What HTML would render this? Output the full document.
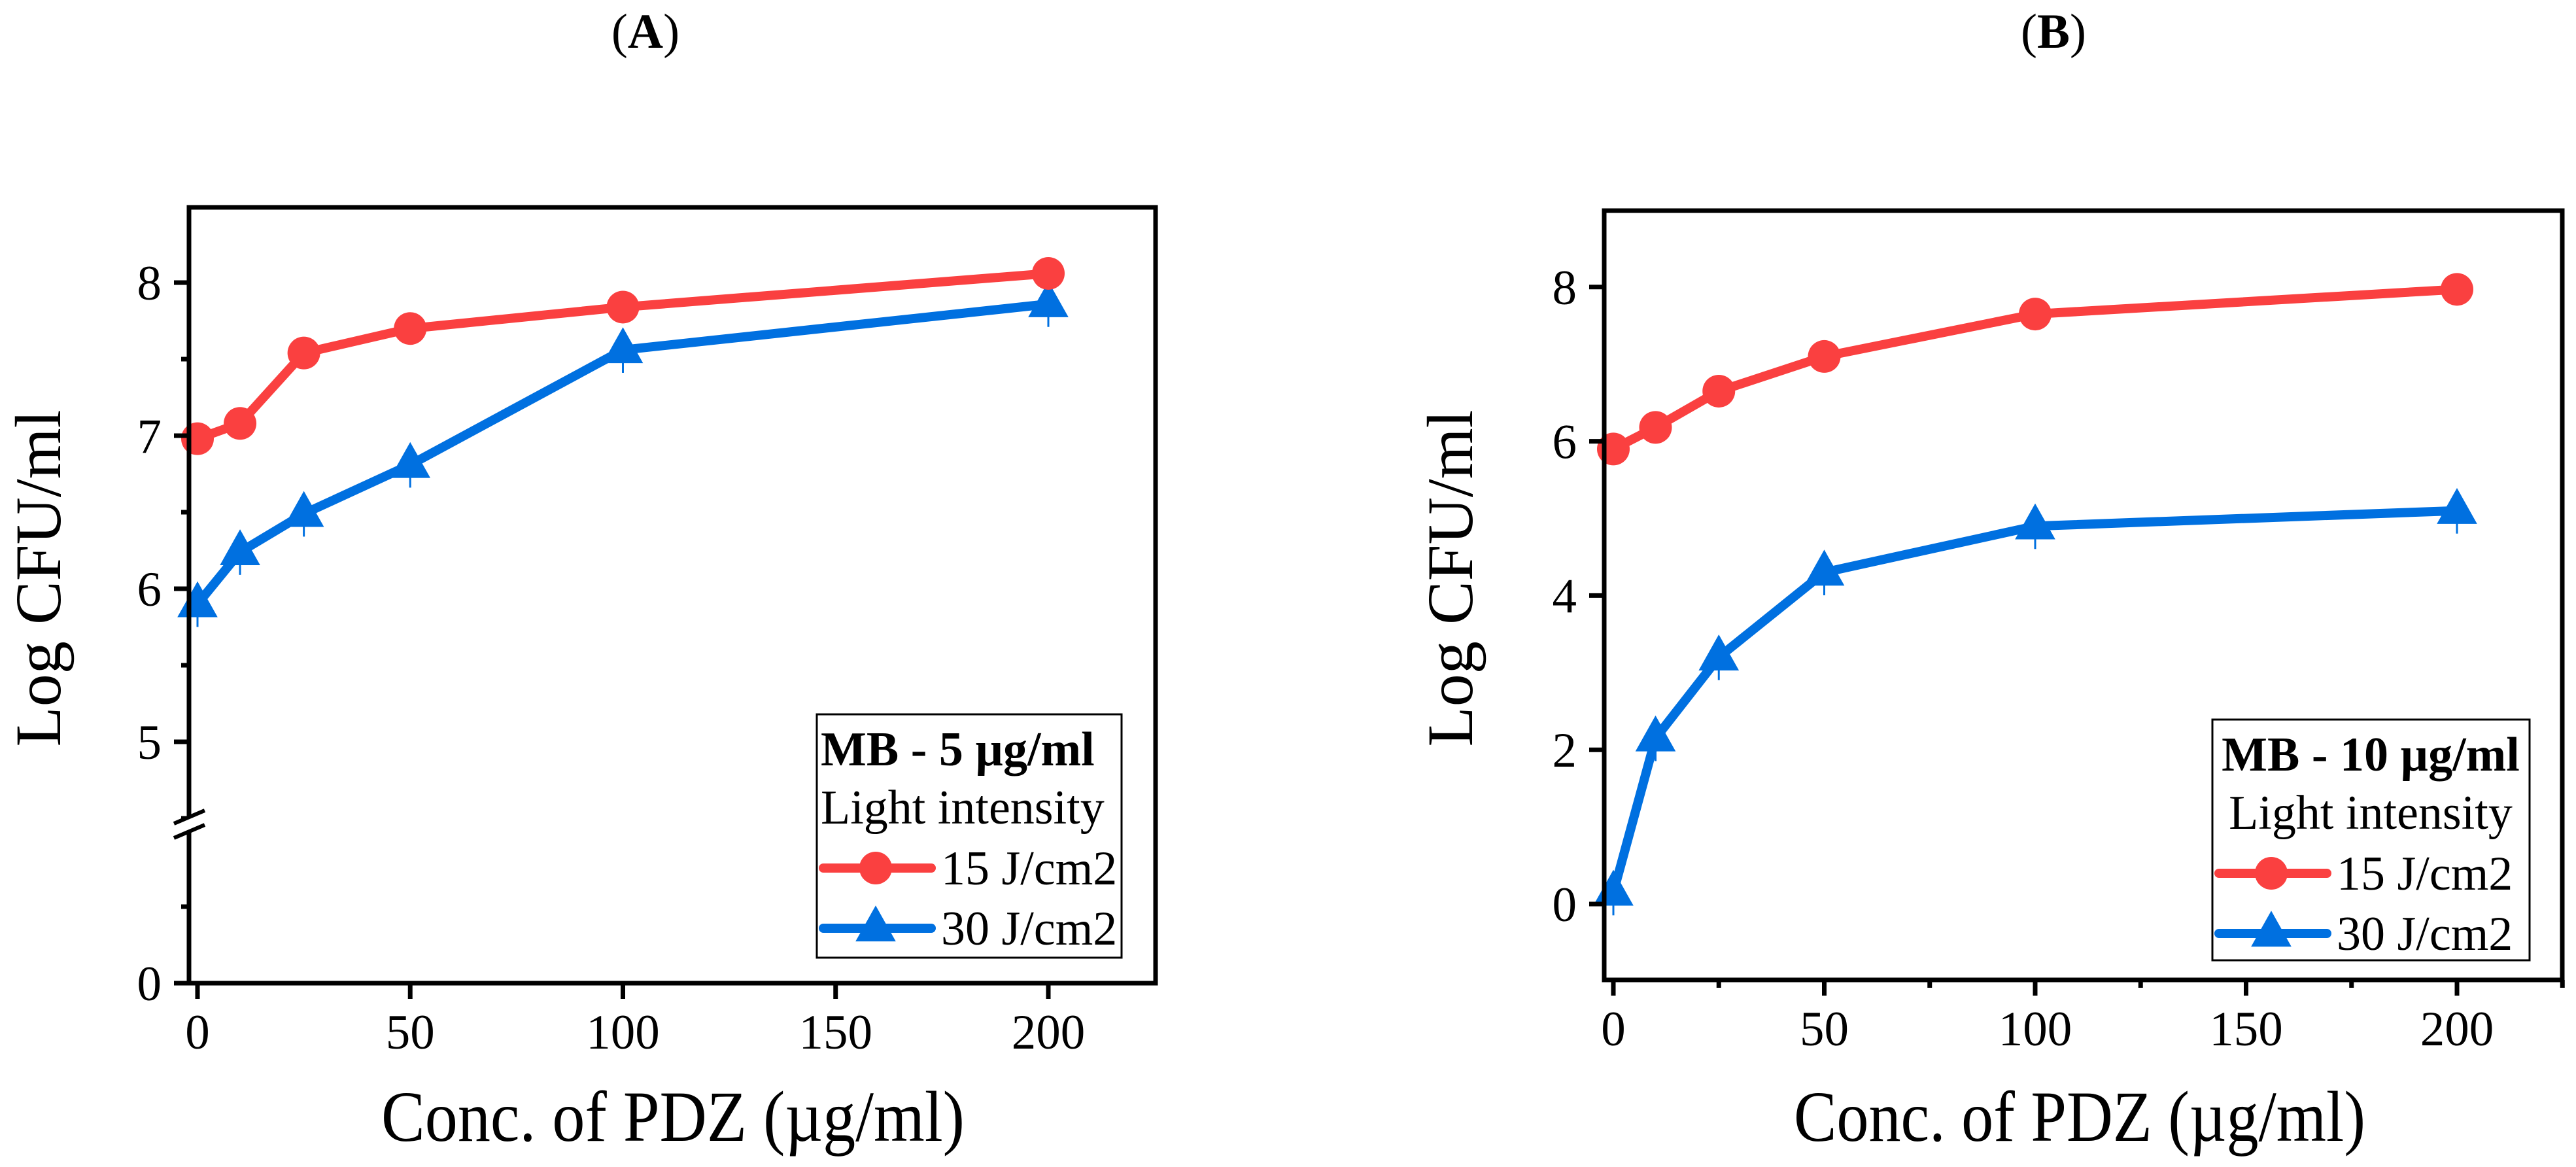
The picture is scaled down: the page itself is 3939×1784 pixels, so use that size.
<!DOCTYPE html>
<html><head><meta charset="utf-8"><style>
html,body{margin:0;padding:0;background:#fff}
svg, svg text{font-family:"Liberation Serif","Times New Roman",serif}
</style></head><body>
<svg id="fig" width="3939" height="1779" viewBox="0 0 3939 1779" xmlns="http://www.w3.org/2000/svg" font-family="'Liberation Serif', serif">
<text x="987" y="73" font-size="75" text-anchor="middle">(<tspan font-weight="bold">A</tspan>)</text>
<text x="3140" y="73" font-size="75" text-anchor="middle">(<tspan font-weight="bold">B</tspan>)</text>
<g id="chartA"></g>
<g id="chartB"></g>
</svg>
<script>
var xCats = [0, 10, 25, 50, 100, 200];
var xTicks = [0, 50, 100, 150, 200];
var aRed = [6.98, 7.08, 7.54, 7.70, 7.84, 8.06];
var aBlue = [5.90, 6.24, 6.49, 6.81, 7.56, 7.86];
var aYTicks = [5, 6, 7, 8];
var aYMinor = [4.5, 5.5, 6.5, 7.5];
var bRed = [5.90, 6.18, 6.65, 7.10, 7.65, 7.97];
var bBlue = [0.15, 2.15, 3.20, 4.30, 4.90, 5.10];
var bYTicks = [0, 2, 4, 6, 8];
var bXMinor = [25, 75, 125, 175, 225];

var SVGNS = "http://www.w3.org/2000/svg";
var RED = "#FA4040", BLUE = "#0070E0";
var FONT = "Liberation Serif, serif";
function mk(parent, tag, attrs, text) {
  var e = document.createElementNS(SVGNS, tag);
  for (var k in attrs) { e.setAttribute(k, String(attrs[k])); }
  if (tag === "text") { e.setAttribute("font-family", FONT); }
  if (text !== undefined) { e.textContent = text; }
  parent.appendChild(e);
  return e;
}
function tri(cx, cy, s) {
  return cx + "," + (cy - s * 0.62) + " " + (cx - s * 0.55) + "," + (cy + s * 0.36) + " " + (cx + s * 0.55) + "," + (cy + s * 0.36);
}

function drawChart(g, cfg) {
  function X(v) { return cfg.x0 + (v - cfg.xmin) * cfg.xs; }
  var Y = cfg.Y;
  var i, t, lb, m;
  var series = [[cfg.blue, BLUE, "tri"], [cfg.red, RED, "circ"]];
  for (var s = 0; s < series.length; s++) {
    var vals = series[s][0], col = series[s][1], shape = series[s][2];
    var pts = [];
    for (i = 0; i < vals.length; i++) { pts.push(X(xCats[i]) + "," + Y(vals[i])); }
    var pl = mk(g, "polyline", {"points": pts.join(" "), "fill": "none", "stroke": col, "stroke-width": 14, "stroke-linejoin": "round"});
    
    
    for (i = 0; i < vals.length; i++) {
      if (shape === "circ") {
        m = mk(g, "circle", {"cx": X(xCats[i]), "cy": Y(vals[i]), "r": 25, "fill": col});
        
      } else {
        mk(g, "line", {"x1": X(xCats[i]), "x2": X(xCats[i]), "y1": Y(vals[i]), "y2": Y(vals[i]) + 35, "stroke": col, "stroke-width": 3});
        m = mk(g, "polygon", {"points": tri(X(xCats[i]), Y(vals[i]), 56), "fill": col});
        
      }
      
    }
  }
  var fr = mk(g, "rect", {"x": cfg.L, "y": cfg.T, "width": cfg.R - cfg.L, "height": cfg.B - cfg.T, "fill": "none", "stroke": "#000", "stroke-width": 7});
  
  
  for (i = 0; i < xTicks.length; i++) {
    t = xTicks[i];
    mk(g, "line", {"x1": X(t), "x2": X(t), "y1": cfg.B, "y2": cfg.B + 24, "stroke": "#000", "stroke-width": 7});
    lb = mk(g, "text", {"x": X(t), "y": cfg.B + 100, "font-size": 75, "text-anchor": "middle"}, String(t));
    
    
  }
  var xm = cfg.xMinor || [];
  for (i = 0; i < xm.length; i++) {
    mk(g, "line", {"x1": X(xm[i]), "x2": X(xm[i]), "y1": cfg.B, "y2": cfg.B + 12, "stroke": "#000", "stroke-width": 7});
  }
  for (i = 0; i < cfg.yTicks.length; i++) {
    t = cfg.yTicks[i];
    mk(g, "line", {"x1": cfg.L - 23, "x2": cfg.L, "y1": Y(t), "y2": Y(t), "stroke": "#000", "stroke-width": 7});
    lb = mk(g, "text", {"x": cfg.L - 42, "y": Y(t) + 26, "font-size": 75, "text-anchor": "end"}, String(t));
    
    
  }
  var ym = cfg.yMinor || [];
  for (i = 0; i < ym.length; i++) {
    mk(g, "line", {"x1": cfg.L - 12, "x2": cfg.L, "y1": Y(ym[i]), "y2": Y(ym[i]), "stroke": "#000", "stroke-width": 7});
  }
  var xt = mk(g, "text", {"x": cfg.xtX, "y": 1744, "font-size": 110, "text-anchor": "middle", "textLength": cfg.xtW, "lengthAdjust": "spacingAndGlyphs"}, "Conc. of PDZ (\u00b5g/ml)");
  
  
  var yt = mk(g, "text", {"x": 0, "y": 0, "font-size": 100, "text-anchor": "middle", "transform": "translate(" + cfg.ytX + ",884) rotate(-90)", "textLength": 515, "lengthAdjust": "spacingAndGlyphs"}, "Log CFU/ml");
  
  
  var lg = mk(g, "g", {});
  
  
  var Lg = cfg.leg;
  mk(lg, "rect", {"x": Lg.l, "y": Lg.t, "width": Lg.r - Lg.l, "height": Lg.b - Lg.t, "fill": "#fff", "stroke": "#000", "stroke-width": 3});
  var ttl = mk(lg, "text", {"x": Lg.tx, "y": Lg.t + 78, "font-size": 74, "font-weight": "bold", "text-anchor": Lg.anchor}, Lg.title);
  
  
  mk(lg, "text", {"x": Lg.tx, "y": Lg.t + 167, "font-size": 74, "text-anchor": Lg.anchor}, "Light intensity");
  var rows = [[RED, "circ", "15 J/cm2", Lg.t + 235], [BLUE, "tri", "30 J/cm2", Lg.t + 327]];
  for (i = 0; i < rows.length; i++) {
    var rc = rows[i][0], rs = rows[i][1], rl = rows[i][2], cy = rows[i][3];
    mk(lg, "line", {"x1": Lg.l + 10, "x2": Lg.l + 175, "y1": cy, "y2": cy, "stroke": rc, "stroke-width": 14, "stroke-linecap": "round"});
    if (rs === "circ") { mk(lg, "circle", {"cx": Lg.l + 90, "cy": cy, "r": 25, "fill": rc}); }
    else { mk(lg, "polygon", {"points": tri(Lg.l + 90, cy, 56), "fill": rc}); }
    var le = mk(lg, "text", {"x": Lg.l + 190, "y": cy + 25, "font-size": 74}, rl);
    
    
  }
}

function YA(v) { return v >= 4 ? 432 + (8 - v) * 234 : 1503 - v * 234; }
function YB(v) { return 1382 - v * 117.9; }

try {
  var gA = document.getElementById("chartA");
  drawChart(gA, {
    red: aRed, blue: aBlue,
    x0: 302, xmin: 0, xs: 6.505, L: 289, R: 1767, T: 317, B: 1503, Y: YA,
    yTicks: aYTicks, yMinor: aYMinor, xtX: 1029, xtW: 892, ytX: 92,
    leg: {l: 1249, r: 1715, t: 1092, b: 1464, tx: 1255, anchor: "start", title: "MB - 5 \u00b5g/ml"}
  });
  mk(gA, "line", {"x1": 266, "x2": 289, "y1": 1503, "y2": 1503, "stroke": "#000", "stroke-width": 7});
  mk(gA, "text", {"x": 247, "y": 1529, "font-size": 75, "text-anchor": "end"}, "0");
  mk(gA, "line", {"x1": 277, "x2": 289, "y1": YA(0.5), "y2": YA(0.5), "stroke": "#000", "stroke-width": 7});
  mk(gA, "rect", {"x": 280, "y": 1250, "width": 18, "height": 22, "fill": "#fff"});
  mk(gA, "line", {"x1": 266, "x2": 313, "y1": 1259, "y2": 1239, "stroke": "#000", "stroke-width": 6});
  mk(gA, "line", {"x1": 266, "x2": 313, "y1": 1281, "y2": 1261, "stroke": "#000", "stroke-width": 6});
} catch (e) {}

try {
  drawChart(document.getElementById("chartB"), {
    red: bRed, blue: bBlue,
    x0: 2467, xmin: 0, xs: 6.45, L: 2453, R: 3918, T: 322, B: 1498, Y: YB,
    yTicks: bYTicks, xMinor: bXMinor, xtX: 3180, xtW: 874, ytX: 2251,
    leg: {l: 3383, r: 3868, t: 1100, b: 1468, tx: 3625, anchor: "middle", title: "MB - 10 \u00b5g/ml"}
  });
} catch (e) {}
</script>
</body></html>
